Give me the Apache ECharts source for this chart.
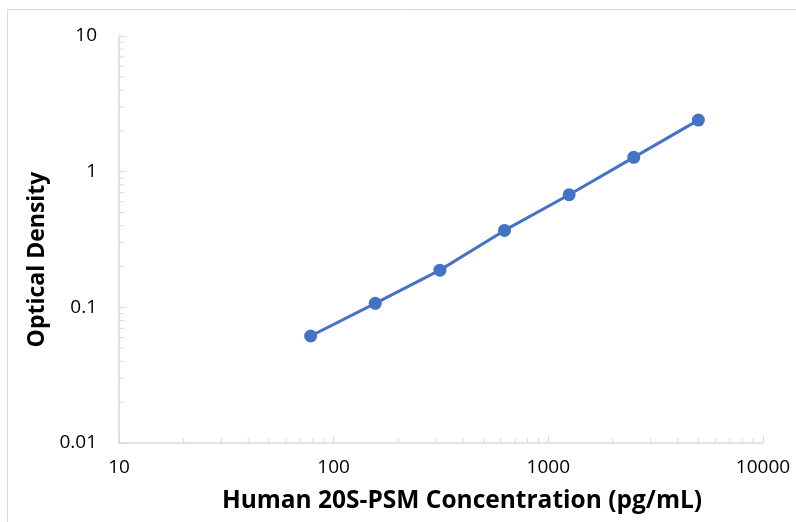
<!DOCTYPE html>
<html><head><meta charset="utf-8">
<script src="https://cdn.jsdelivr.net/npm/echarts@6/dist/echarts.min.js"></script>
<style>html,body{margin:0;padding:0;background:#fff}#c{width:796px;height:522px}</style>
</head><body><div id="c"></div>
<script>
var concentrations = [78.125, 156.25, 312.5, 625, 1250, 2500, 5000];
var opticalDensity = [0.0615, 0.107, 0.188, 0.369, 0.676, 1.275, 2.40];
var xMinorTicks = [20,30,40,50,60,70,80,90,200,300,400,500,600,700,800,900,2000,3000,4000,5000,6000,7000,8000,9000];
var yMinorTicks = [0.02,0.03,0.04,0.05,0.06,0.07,0.08,0.09,0.2,0.3,0.4,0.5,0.6,0.7,0.8,0.9,2,3,4,5,6,7,8,9];
var xTitle = 'Human 20S-PSM Concentration (pg/mL)';
var yTitle = 'Optical Density';

var chart = echarts.init(document.getElementById('c'));
var tickColor = '#d9d9d9';
var font = '"Open Sans", Lato, sans-serif';
function minorTickSeries(vals, isX) {
  return {
    type: 'custom', silent: true, z: 1,
    data: vals.map(function (v) { return isX ? [v, 0.01] : [10, v]; }),
    renderItem: function (params, api) {
      var p = api.coord([api.value(0), api.value(1)]);
      var shape = isX ? {x1: p[0], y1: p[1], x2: p[0], y2: p[1] - 5}
                      : {x1: p[0], y1: p[1], x2: p[0] + 5, y2: p[1]};
      return {type: 'line', shape: shape, style: {stroke: tickColor, lineWidth: 1}};
    }
  };
}
chart.setOption({
  animation: false,
  graphic: [{type: 'polyline', shape: {points: [[7.5, 530], [7.5, 9.5], [800, 9.5]]}, style: {stroke: '#d9d9d9', lineWidth: 1, fill: null}}],
  grid: {left: 119, right: 33, top: 36, bottom: 79},
  xAxis: {
    type: 'log', logBase: 10, min: 10, max: 10000,
    name: xTitle, nameLocation: 'middle', nameGap: 46,
    nameTextStyle: {fontFamily: font, fontWeight: 'bold', fontSize: 24.5, color: '#000', padding: [0, 0, 0, 42]},
    axisLine: {lineStyle: {color: tickColor, width: 1.5}},
    axisTick: {inside: true, length: 7, lineStyle: {color: tickColor}},
    axisLabel: {fontFamily: font, fontSize: 19, color: '#000', margin: 15,
      formatter: function (v) { return String(Math.round(v)); }},
    splitLine: {show: false}
  },
  yAxis: {
    type: 'log', logBase: 10, min: 0.01, max: 10,
    name: yTitle, nameLocation: 'middle', nameGap: 63,
    nameTextStyle: {fontFamily: font, fontWeight: 'bold', fontSize: 23, color: '#000', padding: [0, 40, 0, 0]},
    axisLine: {show: true, lineStyle: {color: tickColor, width: 1.5}},
    axisTick: {show: true, inside: true, length: 7, lineStyle: {color: tickColor}},
    axisLabel: {fontFamily: font, fontSize: 19, color: '#000', margin: 22,
      formatter: function (v) { return String(+v.toPrecision(3)); }},
    splitLine: {show: false}
  },
  series: [
    minorTickSeries(xMinorTicks, true),
    minorTickSeries(yMinorTicks, false),
    {
      type: 'line', z: 3,
      data: concentrations.map(function (c, i) { return [c, opticalDensity[i]]; }),
      symbol: 'circle', symbolSize: 13,
      lineStyle: {color: '#4472C4', width: 3},
      itemStyle: {color: '#4472C4'}
    }
  ]
});
</script></body></html>
